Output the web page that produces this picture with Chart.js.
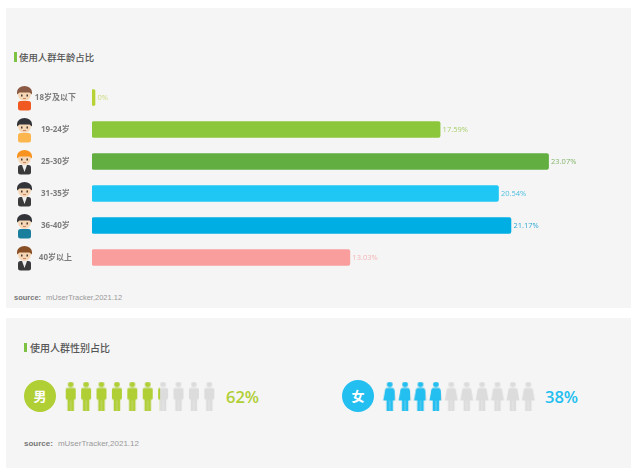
<!DOCTYPE html>
<html>
<head>
<meta charset="utf-8">
<script src="https://cdn.jsdelivr.net/npm/chart.js@4"></script>
<style>
  html, body { margin: 0; padding: 0; background: #fff; }
  body { position: relative; width: 640px; height: 476px; overflow: hidden; font-family: "Open Sans", "Noto Sans CJK SC", sans-serif; filter: blur(0.35px); }
  .panel { position: absolute; left: 6px; width: 625px; background: #f5f5f5; }
  .mark { position: absolute; width: 2.5px; background: #7dc242; }
  .title { position: absolute; color: #555; white-space: nowrap; font-family: "Noto Sans CJK SC", sans-serif; font-weight: 500; line-height: 14px; }
  .source { position: absolute; color: #999; white-space: nowrap; font-family: "Liberation Sans", sans-serif; line-height: 12px; }
  .source b { color: #777; margin-right: 5px; }
  .badge { position: absolute; width: 32px; height: 32px; border-radius: 50%; color: #fff; font: bold 13px/32px "Noto Sans CJK SC", sans-serif; text-align: center; }
  .pct { position: absolute; font: 600 16.5px/24px "Open Sans", sans-serif; }
  canvas { position: absolute; }
</style>
</head>
<body>
<div class="panel" style="top:8px;height:300px"></div>
<div class="panel" style="top:318px;height:150px"></div>

<div class="mark" style="left:14px;top:52px;height:10px"></div>
<div class="title" style="left:19px;top:50px;font-size:9.4px">使用人群年龄占比</div>
<div class="source" style="left:14px;top:292px;font-size:7.5px"><b>source:</b>mUserTracker,2021.12</div>

<div class="mark" style="left:24px;top:343px;height:9px"></div>
<div class="title" style="left:30px;top:341px;font-size:10px">使用人群性别占比</div>
<div class="source" style="left:24px;top:438px;font-size:8px"><b>source:</b>mUserTracker,2021.12</div>

<div class="badge" style="left:24px;top:380px;background:#b0cf35">男</div>
<div class="pct" id="malePct" style="left:226px;top:385px;color:#b0cf35"></div>
<div class="badge" style="left:342px;top:380px;background:#22bff0">女</div>
<div class="pct" id="femalePct" style="left:545px;top:385px;color:#22bff0"></div>

<canvas id="ageChart" width="640" height="476" style="left:0;top:0"></canvas>
<canvas id="maleChart" width="154" height="40" style="left:63px;top:376px"></canvas>
<canvas id="femaleChart" width="154" height="40" style="left:382px;top:376px"></canvas>

<script>
/* ─── Data ─── */
const ageLabels = ["18岁及以下", "19-24岁", "25-30岁", "31-35岁", "36-40岁", "40岁以上"];
const ageShare = [0, 17.59, 23.07, 20.54, 21.17, 13.03];
const genderShare = [62, 38];
const maleIcons = [1, 1, 1, 1, 1, 1, 0.2, 0, 0, 0];
const femaleIcons = [1, 1, 1, 1, 0, 0, 0, 0, 0, 0];

/* ─── Styles ─── */
const barColors = ["#b5d334", "#8cc63a", "#62ae41", "#1fc8f4", "#00aee3", "#f99d9d"];
const labelColors = ["#c9dc7a", "#a9cf6c", "#84b56c", "#4fbfe0", "#2fa9d6", "#f5b5b5"];
const avatarLooks = [
  { hair: "#8a5a44", shirt: "#f05a22", suit: false },
  { hair: "#33343a", shirt: "#fdb64e", suit: false },
  { hair: "#f7931e", shirt: "#3a3a3c", suit: true },
  { hair: "#33343a", shirt: "#3a3a3c", suit: true },
  { hair: "#33343a", shirt: "#1a7f9c", suit: false },
  { hair: "#8a5025", shirt: "#3a3a3c", suit: true },
];
document.getElementById("malePct").textContent = genderShare[0] + "%";
document.getElementById("femalePct").textContent = genderShare[1] + "%";

/* ─── Age avatars ─── */
function drawAvatar(ctx, cx, cy, look) {
  // body
  ctx.fillStyle = look.shirt;
  ctx.beginPath();
  ctx.roundRect(cx - 6.5, cy + 3, 13, 9.5, 2.5);
  ctx.fill();
  if (look.suit) {
    ctx.fillStyle = "#eee";
    ctx.beginPath();
    ctx.moveTo(cx - 2.5, cy + 3);
    ctx.lineTo(cx + 2.5, cy + 3);
    ctx.lineTo(cx, cy + 10);
    ctx.fill();
  }
  // head
  ctx.fillStyle = "#f6d7b5";
  ctx.beginPath();
  ctx.ellipse(cx, cy - 4, 6.5, 7, 0, 0, Math.PI * 2);
  ctx.fill();
  // hair
  ctx.fillStyle = look.hair;
  ctx.beginPath();
  ctx.ellipse(cx, cy - 6, 7.5, 6, 0, Math.PI, 0);
  ctx.lineTo(cx + 7.5, cy - 3.5);
  ctx.lineTo(cx + 5, cy - 5.5);
  ctx.lineTo(cx - 5, cy - 5.5);
  ctx.lineTo(cx - 7.5, cy - 3.5);
  ctx.fill();
  // face
  ctx.fillStyle = "#4a3a30";
  ctx.fillRect(cx - 3.5, cy - 3.5, 1.5, 2);
  ctx.fillRect(cx + 2, cy - 3.5, 1.5, 2);
  ctx.fillStyle = "#c0705a";
  ctx.fillRect(cx - 1.5, cy + 0.2, 3, 0.8);
}

const avatarPlugin = {
  id: "avatars",
  afterDraw(chart) {
    const y = chart.scales.y;
    ageLabels.forEach((_, i) => drawAvatar(chart.ctx, 24.5, y.getPixelForValue(i) + 0.5, avatarLooks[i]));
  },
};

/* ─── Value labels ─── */
const valueLabelPlugin = {
  id: "valueLabels",
  afterDatasetsDraw(chart) {
    const ctx = chart.ctx;
    const bars = chart.getDatasetMeta(0).data;
    ctx.save();
    ctx.font = "7.5px 'Open Sans'";
    ctx.textBaseline = "middle";
    bars.forEach((bar, i) => {
      ctx.fillStyle = labelColors[i];
      ctx.fillText(ageShare[i] + "%", bar.x + 2.5, bar.y);
    });
    ctx.restore();
  },
};

/* ─── Bar Chart ─── */
new Chart(document.getElementById("ageChart"), {
  type: "bar",
  data: {
    labels: ageLabels,
    datasets: [
      {
        data: ageShare,
        backgroundColor: barColors,
        borderRadius: 2,
        borderSkipped: false,
        minBarLength: 3,
        barThickness: 16,
      },
    ],
  },
  options: {
    indexAxis: "y",
    responsive: false,
    animation: false,
    devicePixelRatio: 1,
    layout: { padding: { top: 81.5, bottom: 202.5, right: 53.25 } },
    plugins: { legend: { display: false }, tooltip: { enabled: false } },
    scales: {
      x: { display: false, min: 0, max: 25 },
      y: {
        grid: { display: false, drawTicks: false },
        border: { display: false },
        afterFit: (scale) => { scale.width = 92; },
        ticks: {
          padding: 16,
          crossAlign: "center",
          color: "#7d7d7d",
          font: { family: "'Open Sans','Noto Sans CJK SC'", size: 8, weight: "bold" },
        },
      },
    },
  },
  plugins: [valueLabelPlugin, avatarPlugin],
});

/* ─── People pictograms ─── */
function manPath(ctx) {
  ctx.beginPath();
  ctx.arc(8, 3, 2.8, 0, Math.PI * 2);
  ctx.fill();
  ctx.beginPath();
  ctx.roundRect(3, 6.5, 10, 11.5, 1.5);
  ctx.fill();
  ctx.fillRect(4.8, 16, 3, 13);
  ctx.fillRect(8.2, 16, 3, 13);
  ctx.fillRect(4.8, 16, 6.4, 3);
}
function womanPath(ctx) {
  ctx.beginPath();
  ctx.arc(8, 3, 2.8, 0, Math.PI * 2);
  ctx.fill();
  ctx.beginPath();
  ctx.moveTo(5, 6.5);
  ctx.lineTo(11, 6.5);
  ctx.quadraticCurveTo(13, 7, 13, 11);
  ctx.lineTo(14.5, 19);
  ctx.lineTo(1.5, 19);
  ctx.lineTo(3, 11);
  ctx.quadraticCurveTo(3, 7, 5, 6.5);
  ctx.fill();
  ctx.fillRect(4.8, 18, 3, 11);
  ctx.fillRect(8.2, 18, 3, 11);
}
function makeIcon(path, color, fillShare) {
  const c = document.createElement("canvas");
  c.width = 16;
  c.height = 29;
  const ctx = c.getContext("2d");
  ctx.fillStyle = "#dcdcdc";
  path(ctx);
  if (fillShare > 0) {
    ctx.save();
    ctx.beginPath();
    ctx.rect(0, 0, 3 + 10 * fillShare, 29);
    ctx.clip();
    ctx.fillStyle = color;
    path(ctx);
    ctx.restore();
  }
  return c;
}
function peopleChart(id, icons, path, color) {
  new Chart(document.getElementById(id), {
    type: "scatter",
    data: {
      datasets: [
        {
          data: icons.map((_, i) => ({ x: i, y: 0 })),
          pointStyle: icons.map((share) => makeIcon(path, color, share)),
          clip: false,
        },
      ],
    },
    options: {
      responsive: false,
      animation: false,
      devicePixelRatio: 1,
      layout: { padding: 0, autoPadding: false },
      plugins: { legend: { display: false }, tooltip: { enabled: false } },
      scales: {
        x: { display: false, min: -0.5, max: 9.5 },
        y: { display: false, min: -1, max: 1 },
      },
    },
  });
}
peopleChart("maleChart", maleIcons, manPath, "#b0cf35");
peopleChart("femaleChart", femaleIcons, womanPath, "#22bff0");
</script>
</body>
</html>
